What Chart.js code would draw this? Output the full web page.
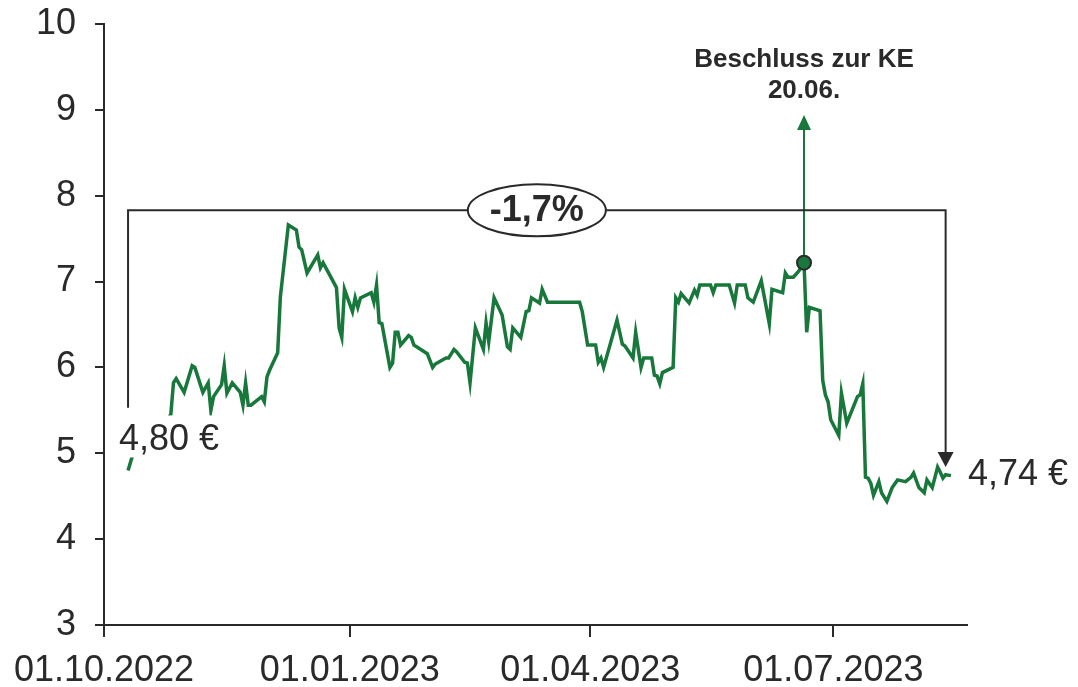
<!DOCTYPE html>
<html>
<head>
<meta charset="utf-8">
<script src="https://cdn.jsdelivr.net/npm/chart.js@4"></script>
<style>
  body { margin: 0; background: #fff; }
  #wrap { width: 1078px; height: 687px; }
</style>
</head>
<body>
<div id="wrap"><canvas id="lineChart"></canvas></div>
<script>
// days since 01.10.2022 and closing price in EUR
const dayOffsets = [9, 11, 18, 25, 26, 27, 30, 33, 34, 37, 39, 40, 41, 44, 45, 46, 48, 51, 52, 53, 54, 55, 59, 60, 61, 62, 65, 66, 69, 72, 73, 74, 76, 80, 81, 82, 87, 88, 89, 90, 93, 94, 95, 96, 100, 101, 102, 103, 104, 107, 108, 109, 110, 111, 114, 115, 116, 117, 119, 121, 123, 124, 128, 129, 131, 132, 135, 136, 137, 139, 142, 143, 144, 146, 149, 151, 152, 153, 156, 158, 159, 160, 163, 164, 166, 178, 179, 181, 184, 185, 186, 187, 192, 194, 195, 198, 199, 201, 202, 205, 206, 207, 208, 209, 213, 214, 215, 216, 219, 221, 222, 223, 227, 228, 229, 234, 236, 237, 240, 241, 243, 246, 249, 250, 254, 255, 256, 258, 260, 262, 263, 264, 268, 269, 270, 271, 272, 275, 276, 278, 282, 283, 284, 285, 286, 287, 288, 290, 291, 293, 295, 297, 300, 302, 303, 305, 307, 308, 310, 312, 313, 314, 315, 317];
const prices = [4.80, 5.01, 5.15, 5.45, 5.82, 5.87, 5.71, 6.02, 6.00, 5.71, 5.82, 5.50, 5.66, 5.80, 6.02, 5.70, 5.82, 5.71, 5.56, 5.82, 5.56, 5.56, 5.66, 5.60, 5.89, 5.97, 6.17, 6.82, 7.66, 7.60, 7.40, 7.37, 7.10, 7.31, 7.16, 7.22, 6.93, 6.46, 6.35, 6.91, 6.65, 6.81, 6.70, 6.81, 6.87, 6.76, 6.96, 6.52, 6.51, 6.00, 6.05, 6.41, 6.41, 6.26, 6.37, 6.35, 6.26, 6.24, 6.20, 6.16, 6.00, 6.04, 6.11, 6.11, 6.21, 6.18, 6.06, 6.05, 5.82, 6.46, 6.21, 6.52, 6.30, 6.81, 6.61, 6.24, 6.21, 6.46, 6.35, 6.65, 6.66, 6.81, 6.75, 6.91, 6.76, 6.76, 6.65, 6.26, 6.26, 6.06, 6.11, 6.00, 6.55, 6.27, 6.25, 6.11, 6.41, 6.00, 6.11, 6.11, 5.91, 5.90, 5.81, 5.94, 6.00, 6.81, 6.76, 6.86, 6.75, 6.90, 6.84, 6.96, 6.96, 6.87, 6.96, 6.96, 6.75, 6.96, 6.96, 6.81, 6.76, 7.01, 6.51, 6.91, 6.87, 7.10, 7.05, 7.05, 7.12, 7.22, 6.41, 6.70, 6.66, 5.85, 5.68, 5.60, 5.39, 5.21, 5.70, 5.35, 5.66, 5.68, 5.81, 4.72, 4.71, 4.65, 4.51, 4.67, 4.54, 4.44, 4.60, 4.69, 4.67, 4.72, 4.77, 4.60, 4.54, 4.69, 4.60, 4.84, 4.78, 4.71, 4.75, 4.74];

const tickDays = [0, 92, 182, 273];
const tickLabels = ["01.10.2022", "01.01.2023", "01.04.2023", "01.07.2023"];
const yTicks = [3, 4, 5, 6, 7, 8, 9, 10];

// Beschluss zur KE, 20.06.2023
const keDay = 262;
const keValue = 7.22;
const keText = ["Beschluss zur KE", "20.06."];

const startText = "4,80 €";
const endText = "4,74 €";
const changeText = "-1,7%";

const GREEN = "#18773a";
const DARK = "#2a2a2a";
const FONT = "'Liberation Sans', Arial, sans-serif";

function arrowHead(ctx, x, y, dir, w, h) {
  ctx.beginPath();
  ctx.moveTo(x, y);
  ctx.lineTo(x - w / 2, y - dir * h);
  ctx.lineTo(x + w / 2, y - dir * h);
  ctx.closePath();
  ctx.fill();
}

const annot = {
  id: "annot",
  beforeDatasetsDraw(chart) {
    const ctx = chart.ctx, xs = chart.scales.x, ys = chart.scales.y;
    const x = xs.getPixelForValue(keDay);
    const y0 = ys.getPixelForValue(keValue);
    const y1 = ys.getPixelForValue(8.94);
    ctx.save();
    ctx.strokeStyle = GREEN; ctx.fillStyle = GREEN; ctx.lineWidth = 2;
    ctx.beginPath(); ctx.moveTo(x, y0); ctx.lineTo(x, y1 + 12); ctx.stroke();
    arrowHead(ctx, x, y1, -1, 14, 15);
    ctx.fillStyle = DARK;
    ctx.font = "bold 26px " + FONT;
    ctx.textAlign = "center"; ctx.textBaseline = "alphabetic";
    ctx.fillText(keText[0], x, y1 - 48);
    ctx.fillText(keText[1], x, y1 - 17);
    ctx.restore();
  },
  afterDatasetsDraw(chart) {
    const ctx = chart.ctx, xs = chart.scales.x, ys = chart.scales.y;
    const n = dayOffsets.length;
    const xa = xs.getPixelForValue(dayOffsets[0]);
    const xb = xs.getPixelForValue(315);
    const yl = ys.getPixelForValue(7.83);
    ctx.save();
    ctx.strokeStyle = DARK; ctx.fillStyle = DARK; ctx.lineWidth = 2;
    // bracket
    ctx.beginPath();
    ctx.moveTo(xa, ys.getPixelForValue(5.53));
    ctx.lineTo(xa, yl);
    ctx.lineTo(xb, yl);
    ctx.lineTo(xb, ys.getPixelForValue(4.84) - 12);
    ctx.stroke();
    arrowHead(ctx, xb, ys.getPixelForValue(4.84), 1, 16, 15);
    // ellipse with change
    const xm = (xa + xb) / 2;
    ctx.beginPath();
    ctx.ellipse(xm, yl, 69, 26, 0, 0, Math.PI * 2);
    ctx.fillStyle = "#fff"; ctx.fill(); ctx.stroke();
    ctx.fillStyle = DARK;
    ctx.font = "bold 36px " + FONT;
    ctx.textAlign = "center"; ctx.textBaseline = "middle";
    ctx.fillText(changeText, xm, yl + 1);
    // start label
    const ys0 = ys.getPixelForValue(prices[0]);
    ctx.fillStyle = "#fff";
    ctx.fillRect(xa - 13, ys0 - 55, 110, 42);
    ctx.fillStyle = DARK;
    ctx.font = "36px " + FONT;
    ctx.textAlign = "left"; ctx.textBaseline = "alphabetic";
    ctx.fillText(startText, xa - 9, ys0 - 20);
    // end label
    const xe = xs.getPixelForValue(dayOffsets[n - 1]);
    const ye = ys.getPixelForValue(prices[n - 1]);
    ctx.textBaseline = "middle";
    ctx.fillText(endText, xe + 17, ye - 1);
    ctx.restore();
  }
};

const points = dayOffsets.map((d, i) => ({ x: d, y: prices[i] }));

const CHART = document.getElementById("lineChart");
const lineChart = new Chart(CHART, {
  type: "line",
  data: {
    datasets: [
      {
        label: "KE",
        data: [{ x: keDay, y: keValue }],
        showLine: false,
        pointRadius: 7,
        pointBackgroundColor: GREEN,
        pointBorderColor: DARK,
        pointBorderWidth: 2,
        order: 0
      },
      {
        label: "Kurs",
        data: points,
        borderColor: GREEN,
        borderWidth: 3.5,
        lineTension: 0,
        pointRadius: 0,
        fill: false,
        order: 1
      }
    ]
  },
  options: {
    responsive: true,
    maintainAspectRatio: false,
    animation: false,
    layout: { padding: { top: 24, right: 111, left: 0, bottom: 0 } },
    plugins: { legend: { display: false }, tooltip: { enabled: false } },
    scales: {
      x: {
        type: "linear",
        min: 0,
        max: 323,
        afterBuildTicks: (s) => { s.ticks = tickDays.map(v => ({ value: v })); },
        afterFit: (s) => { s.height = 62; s.paddingLeft = 0; s.paddingRight = 0; },
        ticks: {
          autoSkip: false,
          maxRotation: 0,
          padding: 12,
          color: DARK,
          font: { family: FONT, size: 36 },
          callback: (v) => tickLabels[tickDays.indexOf(v)]
        },
        grid: { drawOnChartArea: false, tickLength: 12, color: DARK, lineWidth: 2 },
        border: { color: DARK, width: 2 }
      },
      y: {
        min: 3,
        max: 10,
        afterBuildTicks: (s) => { s.ticks = yTicks.map(v => ({ value: v })); },
        afterFit: (s) => { s.width = 104; s.paddingTop = 0; s.paddingBottom = 0; },
        ticks: {
          padding: 19,
          color: DARK,
          font: { family: FONT, size: 36 }
        },
        grid: { drawOnChartArea: false, tickLength: 9, color: DARK, lineWidth: 2 },
        border: { color: DARK, width: 2 }
      }
    }
  },
  plugins: [annot]
});
</script>
</body>
</html>
